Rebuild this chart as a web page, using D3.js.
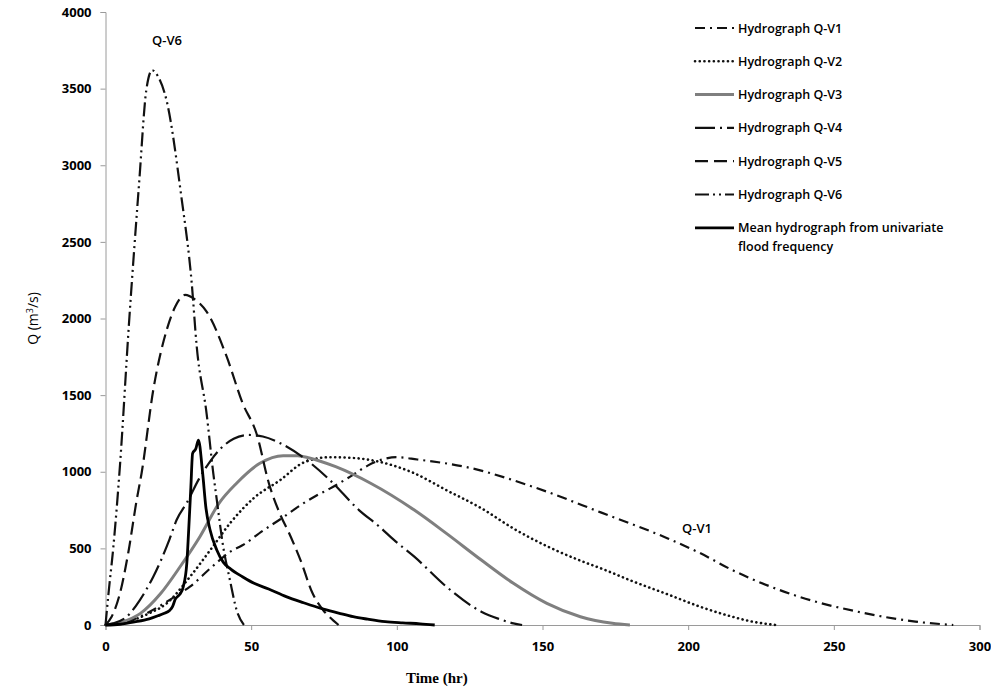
<!DOCTYPE html>
<html>
<head>
<meta charset="utf-8">
<script src="https://cdn.jsdelivr.net/npm/d3@7"></script>
<style>
  body { margin: 0; background: #fff; }
  svg text { font-family: "Open Sans", "Noto Sans", sans-serif; }
</style>
</head>
<body>
<script>
const width = 991, height = 690;
const margin = {top: 12, right: 11.5, bottom: 65, left: 105.5};

// hydrograph values (time in hr, Q in m3/s)
const tV1 = [0, 5, 10, 15, 20, 25, 29, 36, 43, 47, 54, 60, 68, 72, 77, 84, 90, 96, 100, 107, 124, 147, 170, 193, 204, 215, 238, 261, 278, 291];
const qV1 = [0, 10, 40, 85, 140, 200, 250, 370, 480, 520, 615, 690, 795, 840, 890, 968, 1040, 1085, 1095, 1080, 1030, 900, 735, 565, 470, 360, 185, 76, 22, 0];

const tV2 = [0, 9.5, 15, 21, 29, 36, 43, 51, 60, 68, 77, 85, 94, 106, 117, 129, 140, 152, 163, 170, 181, 193, 204, 215, 222, 230];
const qV2 = [0, 33, 76, 141, 315, 490, 670, 830, 946, 1060, 1095, 1090, 1065, 990, 880, 762, 630, 510, 420, 370, 285, 200, 120, 55, 22, 0];

const tV3 = [0, 6, 12, 19, 25.6, 32.4, 39, 45, 53, 61, 66, 70, 79, 91, 106, 117, 129, 140, 151.5, 163, 174, 180];
const qV3 = [0, 22, 76, 207, 380, 576, 795, 925, 1055, 1105, 1105, 1090, 1033, 925, 750, 598, 424, 272, 141, 54, 11, 0];

const tV4 = [0, 2.7, 7.3, 11.8, 16.4, 22, 24.4, 28, 32, 36, 40, 44, 49, 54, 60, 69, 77, 87, 94, 99, 106, 117, 129, 135, 140, 143];
const qV4 = [0, 11, 54, 163, 315, 560, 685, 800, 950, 1070, 1160, 1215, 1240, 1230, 1186, 1077, 946, 750, 642, 555, 446, 250, 87, 40, 11, 0];

const tV5 = [0, 2.1, 5, 7.8, 10.7, 12.4, 16.4, 21, 24, 27.3, 31, 34.7, 41.6, 47, 52, 56, 60, 63, 67, 71, 75, 77, 80];
const qV5 = [0, 54, 209, 470, 816, 992, 1534, 1925, 2080, 2154, 2120, 2045, 1751, 1450, 1240, 930, 720, 600, 420, 210, 90, 50, 0];

const tV6 = [0, 1, 2.7, 5, 8, 11.6, 14, 16, 18, 21, 26, 29.6, 31.3, 34.7, 37, 38.2, 40.4, 42.7, 45, 47.5];
const qV6 = [0, 200, 510, 1050, 1950, 2900, 3490, 3620, 3580, 3420, 2800, 2230, 1820, 1380, 990, 816, 511, 294, 98, 0];

const tMean = [0, 5, 10, 15, 18, 20, 22, 23, 24, 25.5, 26.7, 27.9, 28.5, 29.3, 29.9, 31, 31.9, 33.3, 34.5, 35.9, 38.2, 40.4, 43, 47, 51, 56, 62, 68, 74, 80, 85, 90, 96, 102, 108, 113];
const qMean = [0, 5, 20, 40, 60, 75, 95, 120, 170, 200, 250, 400, 600, 900, 1120, 1150, 1207, 1000, 760, 620, 490, 410, 365, 315, 272, 235, 185, 145, 108, 78, 54, 38, 22, 14, 8, 0];

const xTicks = [0, 50, 100, 150, 200, 250, 300];
const yTicks = [0, 500, 1000, 1500, 2000, 2500, 3000, 3500, 4000];

const seriesNames = ["Hydrograph Q-V1", "Hydrograph Q-V2", "Hydrograph Q-V3", "Hydrograph Q-V4",
  "Hydrograph Q-V5", "Hydrograph Q-V6", "Mean hydrograph from univariate"];
const seriesT = [tV1, tV2, tV3, tV4, tV5, tV6, tMean];
const seriesQ = [qV1, qV2, qV3, qV4, qV5, qV6, qMean];

// line styles: colour, width, dash
const styles = [
  {color: "#111", w: 2.2, dash: "10,5,2,5"},
  {color: "#111", w: 2.6, dash: "0.1,4.6"},
  {color: "#7f7f7f", w: 3, dash: null},
  {color: "#111", w: 2.2, dash: "20,5,2,5"},
  {color: "#111", w: 2.2, dash: "13,6"},
  {color: "#111", w: 2.2, dash: "14,4,2,4,2,4"},
  {color: "#000", w: 2.8, dash: null}
];

const svg = d3.select("body").append("svg")
  .attr("width", width)
  .attr("height", height);

const x = d3.scaleLinear().domain([0, 300]).range([margin.left, width - margin.right]);
const y = d3.scaleLinear().domain([0, 4000]).range([height - margin.bottom, margin.top]);

// axes
const xAxis = svg.append("g")
  .attr("transform", `translate(0,${y(0)})`)
  .call(d3.axisBottom(x).tickValues(xTicks).tickFormat(d3.format("d")).tickSize(5).tickPadding(12));
const yAxis = svg.append("g")
  .attr("transform", `translate(${x(0)},0)`)
  .call(d3.axisLeft(y).tickValues(yTicks).tickFormat(d3.format("d")).tickSize(5).tickPadding(9));

[xAxis, yAxis].forEach(g => {
  g.selectAll("path, line").attr("stroke", "#9a9a9a");
  g.selectAll("text")
    .attr("fill", "#000")
    .style("font-size", "13px")
    .style("font-weight", "700");
});

// curves
const line = d3.line()
  .x(d => x(d[0]))
  .y(d => y(d[1]))
  .curve(d3.curveMonotoneX);

seriesT.forEach((ts, i) => {
  const pts = ts.map((t, j) => [t, seriesQ[i][j]]);
  svg.append("path")
    .datum(pts)
    .attr("fill", "none")
    .attr("stroke", styles[i].color)
    .attr("stroke-width", styles[i].w)
    .attr("stroke-dasharray", styles[i].dash)
    .attr("stroke-linecap", i === 1 ? "round" : "butt")
    .attr("d", line);
});

// labels on the curves
svg.append("text").attr("x", 152).attr("y", 45)
  .style("font-size", "13px").style("font-weight", "600").text("Q-V6");
svg.append("text").attr("x", 682).attr("y", 533)
  .style("font-size", "13px").style("font-weight", "600").text("Q-V1");

// axis titles
svg.append("text")
  .attr("x", x(100) + 40).attr("y", 683)
  .attr("text-anchor", "middle")
  .style("font-family", "'Liberation Serif', serif")
  .style("font-size", "15px").style("font-weight", "700")
  .text("Time (hr)");

const yTitle = svg.append("text")
  .attr("transform", `translate(38,${y(2000)}) rotate(-90)`)
  .attr("text-anchor", "middle")
  .style("font-size", "14px");
yTitle.append("tspan").text("Q (m");
yTitle.append("tspan").attr("dy", -5).style("font-size", "9px").text("3");
yTitle.append("tspan").attr("dy", 5).text("/s)");

// legend
const legend = svg.append("g");
seriesNames.forEach((name, i) => {
  const ly = 28 + i * 33.3;
  legend.append("line")
    .attr("x1", 695).attr("x2", 734)
    .attr("y1", ly).attr("y2", ly)
    .attr("stroke", styles[i].color)
    .attr("stroke-width", styles[i].w)
    .attr("stroke-dasharray", styles[i].dash)
    .attr("stroke-linecap", i === 1 ? "round" : "butt");
  legend.append("text")
    .attr("x", 738).attr("y", ly + 4.5)
    .style("font-size", "12.5px").style("font-weight", "600")
    .text(name);
});
legend.append("text")
  .attr("x", 738).attr("y", 28 + 6 * 33.3 + 23.5)
  .style("font-size", "12.5px").style("font-weight", "600")
  .text("flood frequency");
</script>
</body>
</html>
